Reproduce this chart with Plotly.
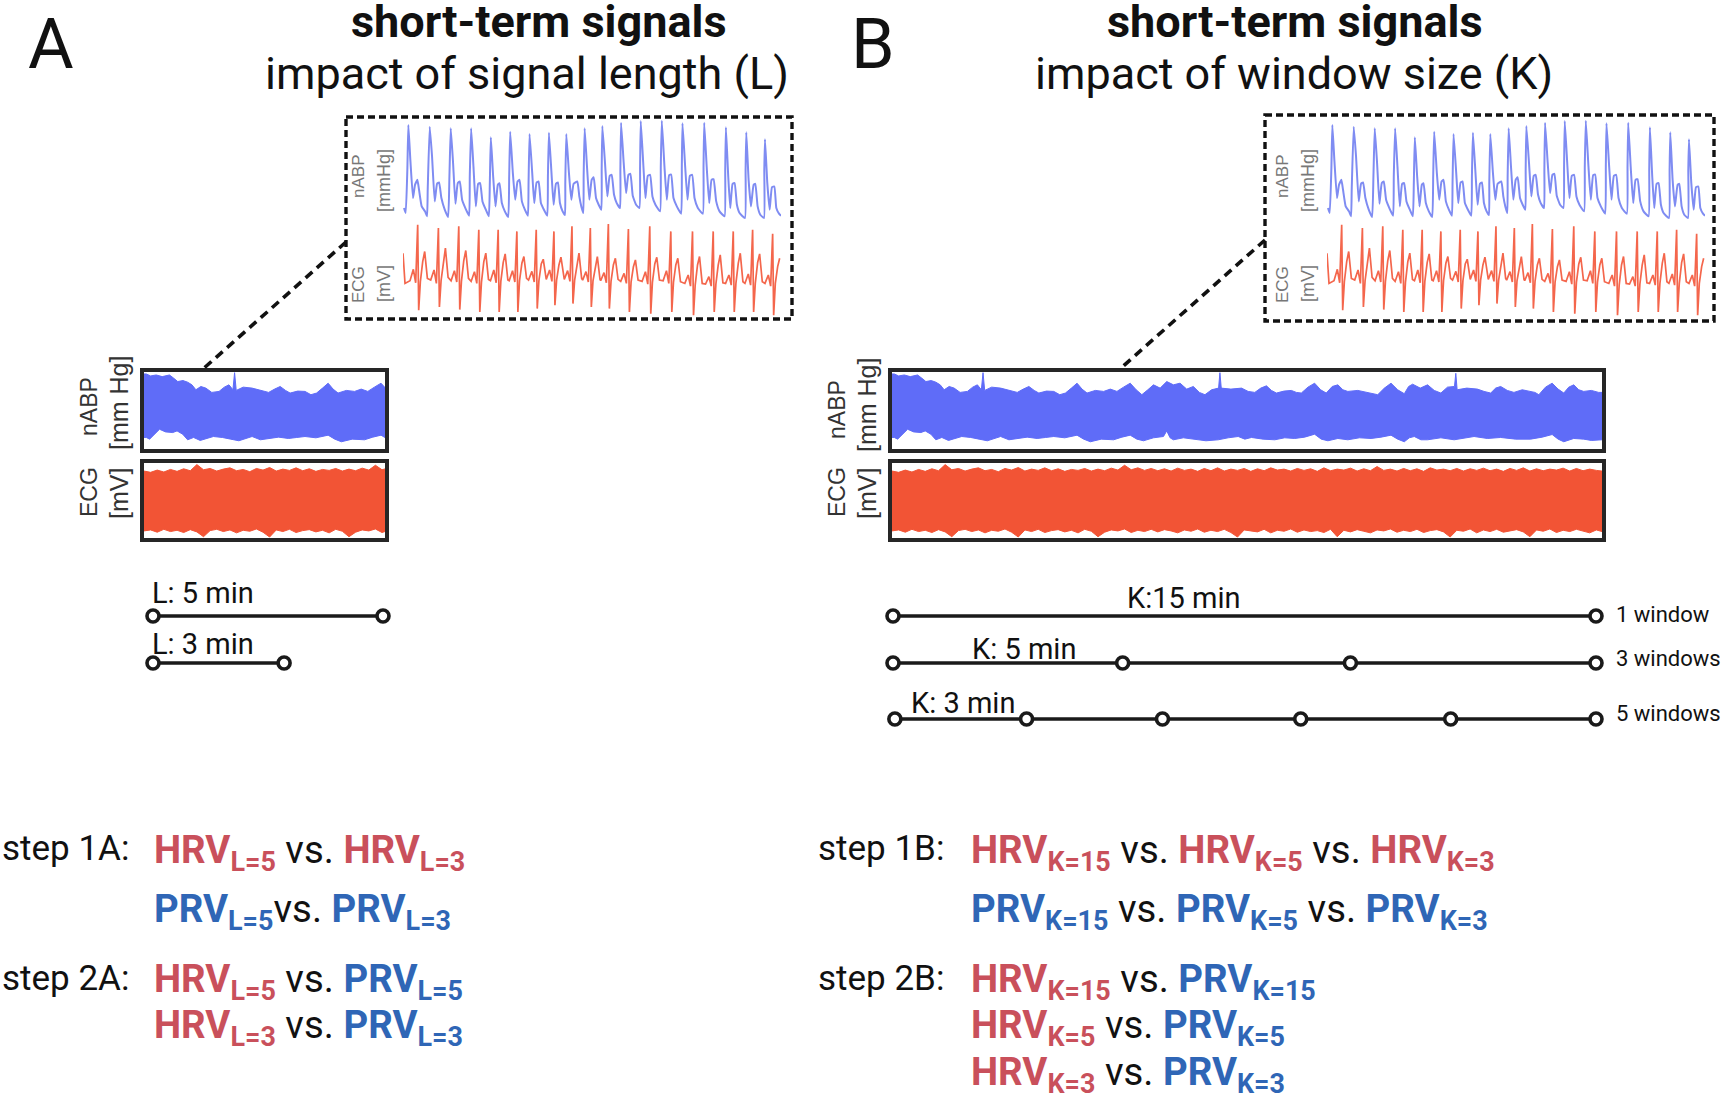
import plotly.graph_objects as go

W = 1725
H = 1096

BLUE = "#5f6cf8"
RED = "#f25435"
TRACE_BLUE = "#7f8cf2"
TRACE_RED = "#f4664c"
HRV_RED = "#c9505b"
PRV_BLUE = "#2f66b6"
FONT = "Roboto"
SIGNAL_FONT = "Liberation Sans"

# beat by beat reading of the zoomed nABP snippet
abp_sample = [193, 198, 203, 206, 212, 220, 226, 233, 238, 246, 256, 262,
    264, 270, 277, 285, 292, 298, 305, 315, 325,
    329, 333, 340, 347, 354, 360, 367, 378, 388,
    390, 394, 401, 408, 415, 421, 428, 438, 447,
    450, 453, 460, 467, 474, 479, 486, 495, 505,
    508, 511, 519, 526, 533, 539, 546, 555, 564,
    566, 569, 577, 583, 590, 596, 603, 612, 622,
    624, 627, 635, 641, 648, 654, 660, 668, 675,
    676, 679, 687, 694, 701, 712, 718, 724, 730,
    731, 734, 741, 748, 755, 761, 768, 776, 784,
    785, 787, 795, 802, 809, 815, 822, 830, 840,
    841, 843, 851, 858, 865, 871, 878, 888, 898,
    900, 902, 910, 916, 923, 930, 937, 946, 960,
    962, 965, 973, 980, 987, 993, 1000, 1010, 1023,
    1025, 1027, 1035, 1042, 1049, 1056, 1063, 1073, 1088,
    1090, 1092, 1100, 1107, 1114, 1120, 1128, 1138, 1153,
    1155, 1157, 1164, 1170, 1177, 1183, 1190, 1198, 1214,
    1216, 1218, 1225, 1232, 1240, 1245, 1252, 1260, 1271,
    1272, 1274, 1281, 1288, 1295, 1302, 1308, 1316, 1322]
abp_level = [45, 30, 160, 295, 190, 75, 115, 130, 100, 50, 35, 20,
    100, 290, 200, 65, 118, 122, 75, 40, 18,
    140, 285, 180, 58, 120, 125, 70, 42, 22,
    140, 285, 170, 50, 118, 120, 65, 40, 20,
    120, 258, 140, 50, 115, 120, 60, 35, 18,
    140, 275, 150, 70, 125, 130, 65, 40, 22,
    120, 268, 150, 60, 122, 125, 60, 40, 22,
    140, 272, 145, 55, 118, 122, 60, 35, 24,
    120, 268, 150, 70, 118, 125, 80, 50, 30,
    140, 285, 170, 70, 130, 138, 75, 55, 40,
    160, 292, 180, 80, 142, 145, 85, 60, 45,
    160, 302, 180, 90, 145, 148, 82, 55, 45,
    170, 307, 170, 75, 142, 145, 80, 55, 35,
    170, 308, 170, 70, 144, 146, 75, 50, 28,
    170, 300, 170, 70, 142, 145, 75, 45, 28,
    170, 302, 160, 60, 130, 132, 65, 35, 20,
    160, 288, 140, 45, 118, 120, 55, 30, 15,
    160, 273, 130, 50, 115, 118, 50, 25, 15,
    160, 252, 120, 40, 108, 110, 45, 28, 22]

# same for the ECG snippet
ecg_sample = [190, 196,
    211, 221, 228, 234, 237, 242, 249, 255, 263,
    273, 283, 290, 296, 299, 304, 311, 317, 325,
    334, 344, 351, 357, 360, 365, 372, 378, 386,
    394, 404, 411, 417, 420, 425, 432, 438, 446,
    452, 462, 469, 475, 478, 483, 490, 496, 504,
    508, 518, 525, 531, 534, 539, 546, 552, 560,
    566, 576, 583, 589, 592, 597, 604, 610, 618,
    619, 629, 636, 642, 645, 650, 657, 663, 671,
    673, 683, 690, 696, 699, 704, 711, 717, 725,
    728, 738, 745, 751, 754, 759, 766, 772, 780,
    782, 792, 799, 805, 808, 813, 820, 826, 834,
    842, 852, 859, 865, 868, 873, 880, 886, 894,
    906, 916, 923, 929, 932, 937, 944, 950, 958,
    969, 979, 986, 992, 995, 1000, 1007, 1013, 1021,
    1034, 1044, 1051, 1057, 1060, 1065, 1072, 1078, 1086,
    1096, 1106, 1113, 1119, 1122, 1127, 1134, 1140, 1148,
    1156, 1166, 1173, 1179, 1182, 1187, 1194, 1200, 1208,
    1214, 1224, 1231, 1237, 1240, 1245, 1252, 1258, 1266,
    1274, 1284, 1291, 1297, 1300, 1305, 1312, 1318]
ecg_level = [190, 100,
    108, 142, 102, 275, 20, 105, 165, 195, 115,
    110, 140, 100, 265, 30, 108, 170, 205, 118,
    108, 138, 104, 270, 22, 106, 168, 198, 115,
    106, 135, 100, 260, 15, 104, 165, 190, 112,
    108, 140, 102, 260, 15, 106, 162, 188, 110,
    108, 138, 104, 255, 15, 108, 160, 180, 115,
    110, 136, 104, 260, 25, 108, 158, 172, 116,
    112, 140, 106, 255, 35, 110, 155, 178, 118,
    112, 138, 106, 270, 40, 110, 160, 190, 115,
    110, 135, 104, 265, 30, 108, 155, 180, 112,
    108, 132, 102, 277, 25, 106, 155, 175, 112,
    106, 130, 100, 262, 15, 104, 150, 170, 110,
    106, 135, 98, 270, 10, 104, 158, 178, 110,
    108, 138, 100, 255, 15, 104, 155, 175, 105,
    100, 125, 92, 255, 5, 95, 155, 180, 100,
    98, 120, 92, 255, 15, 98, 155, 185, 102,
    100, 125, 95, 255, 15, 100, 160, 190, 105,
    100, 128, 95, 260, 15, 100, 162, 188, 105,
    100, 125, 92, 248, 5, 100, 150, 175]

# envelopes of the long recordings, (sample, level)
abp_top_edge = [(0, 228), (7, 228), (20, 222), (37, 225), (55, 220), (77, 225), (90, 215), (102, 205),
    (118, 208), (132, 203), (145, 195), (157, 180), (172, 190), (187, 185), (205, 172), (227, 175),
    (243, 188), (257, 195), (269, 180), (274, 232), (279, 178), (300, 188), (327, 185), (350, 178),
    (377, 172), (395, 182), (412, 190), (428, 178), (442, 170), (465, 176), (487, 175), (505, 165),
    (522, 170), (540, 185), (557, 200), (572, 182), (587, 170), (612, 178), (637, 175), (657, 182),
    (677, 175), (697, 188), (717, 200), (735, 180), (752, 165), (770, 180), (787, 195), (807, 185),
    (827, 205), (847, 195), (867, 200), (887, 182), (907, 190), (925, 172), (942, 165), (962, 180),
    (983, 185), (987, 232), (991, 185), (1020, 182), (1052, 185), (1072, 175), (1092, 172), (1110, 185),
    (1127, 192), (1142, 178), (1157, 170), (1180, 176), (1202, 178), (1217, 172), (1232, 170), (1252, 188),
    (1272, 200), (1290, 180), (1307, 170), (1325, 190), (1342, 195), (1357, 180), (1372, 175), (1402, 178),
    (1432, 172), (1447, 170), (1462, 165), (1482, 185), (1502, 200), (1522, 180), (1542, 168), (1555, 190),
    (1567, 197), (1590, 185), (1612, 195), (1632, 178), (1652, 170), (1672, 188), (1693, 190), (1697, 230),
    (1701, 180), (1730, 185), (1762, 182), (1782, 175), (1802, 170), (1817, 185), (1832, 190), (1852, 178),
    (1872, 172), (1897, 180), (1922, 175), (1935, 172), (1947, 165), (1967, 188), (1987, 200), (2005, 182),
    (2022, 170), (2037, 188), (2052, 195), (2067, 180), (2082, 175), (2105, 178), (2127, 172), (2137, 172)]
abp_low_edge = [(0, 35), (7, 35), (17, 30), (27, 38), (37, 50), (47, 60), (65, 52), (87, 50), (100, 55),
    (117, 45), (132, 28), (150, 35), (170, 26), (187, 32), (210, 38), (237, 35), (262, 30), (287, 25),
    (307, 32), (327, 38), (352, 28), (377, 32), (407, 36), (437, 32), (462, 35), (487, 38), (520, 34),
    (557, 42), (577, 30), (597, 22), (630, 30), (667, 28), (692, 36), (717, 42), (737, 30), (757, 25),
    (787, 34), (817, 38), (827, 55), (837, 34), (847, 28), (877, 34), (907, 30), (945, 25), (982, 28),
    (1012, 34), (1042, 38), (1062, 30), (1082, 35), (1117, 30), (1152, 28), (1182, 34), (1212, 32),
    (1242, 36), (1272, 45), (1292, 30), (1312, 25), (1342, 32), (1372, 28), (1407, 34), (1442, 32),
    (1472, 36), (1502, 42), (1522, 30), (1542, 22), (1557, 34), (1572, 38), (1592, 28), (1612, 28),
    (1652, 34), (1692, 28), (1722, 34), (1752, 38), (1792, 32), (1832, 35), (1877, 30), (1922, 30),
    (1957, 36), (1987, 44), (2005, 30), (2022, 22), (2052, 32), (2082, 30), (2105, 26), (2127, 28), (2137, 28)]
ecg_env_sample = [0, 20, 40, 60, 80, 100, 120, 140, 160, 180, 200, 220,
    240, 260, 280, 300, 320, 340, 360, 380, 400, 420, 440, 460,
    480, 500, 520, 540, 560, 580, 600, 620, 640, 660, 680, 700,
    720, 740, 760, 780, 800, 820, 840, 860, 880, 900, 920, 940,
    960, 980, 1000, 1020, 1040, 1060, 1080, 1100, 1120, 1140, 1160, 1180,
    1200, 1220, 1240, 1260, 1280, 1300, 1320, 1340, 1360, 1380, 1400, 1420,
    1440, 1460, 1480, 1500, 1520, 1540, 1560, 1580, 1600, 1620, 1640, 1660,
    1680, 1700, 1720, 1740, 1760, 1780, 1800, 1820, 1840, 1860, 1880, 1900,
    1920, 1940, 1960, 1980, 2000, 2020, 2040, 2060, 2080, 2100, 2120, 2137]
ecg_top_level = [208, 204, 211, 205, 213, 207, 215, 209, 228, 212, 216, 208,
    214, 218, 209, 213, 206, 216, 211, 219, 208, 214, 210, 218,
    209, 215, 207, 213, 210, 216, 208, 214, 209, 217, 211, 226,
    212, 218, 210, 216, 209, 215, 208, 217, 210, 214, 207, 216,
    209, 218, 208, 214, 210, 216, 207, 215, 209, 218, 211, 214,
    208, 216, 210, 215, 207, 218, 209, 214, 211, 217, 208, 215,
    209, 222, 210, 214, 208, 216, 209, 215, 207, 218, 211, 214,
    209, 216, 208, 215, 210, 217, 209, 214, 207, 216, 210, 218,
    208, 215, 209, 214, 211, 217, 208, 216, 209, 214, 210, 208]
ecg_low_level = [22, 25, 18, 27, 20, 24, 17, 26, 19, 4, 23, 27,
    20, 25, 16, 24, 21, 28, 18, 3, 25, 20, 27, 17,
    23, 26, 19, 24, 16, 27, 21, 4, 18, 25, 22, 28,
    17, 24, 20, 27, 19, 26, 22, 16, 25, 21, 28, 18,
    24, 20, 27, 17, 3, 25, 22, 19, 27, 16, 24, 21,
    28, 18, 25, 20, 23, 17, 27, 4, 24, 19, 26, 21,
    16, 25, 22, 28, 18, 24, 20, 27, 17, 23, 26, 19,
    3, 24, 21, 28, 16, 25, 20, 27, 18, 23, 26, 19,
    4, 25, 21, 28, 17, 24, 20, 27, 22, 16, 25, 20]

# analysis windows on the time line, minutes
windows_a = [[0, 5.0], [0, 2.85]]
windows_b = [[0, 15], [0, 4.9, 9.76, 15], [0.04, 2.85, 5.75, 8.7, 11.9, 15]]
window_labels_b = ["1 window", "3 windows", "5 windows"]


def hrv(sub):
    return f'<span style="color:{HRV_RED}"><b>HRV<sub>{sub}</sub></b></span>'


def prv(sub):
    return f'<span style="color:{PRV_BLUE}"><b>PRV<sub>{sub}</sub></b></span>'


rows_a = [hrv("L=5") + " vs. " + hrv("L=3"),
    prv("L=5") + "vs. " + prv("L=3"),
    hrv("L=5") + " vs. " + prv("L=5"),
    hrv("L=3") + " vs. " + prv("L=3")]
rows_b = [hrv("K=15") + " vs. " + hrv("K=5") + " vs. " + hrv("K=3"),
    prv("K=15") + " vs. " + prv("K=5") + " vs. " + prv("K=3"),
    hrv("K=15") + " vs. " + prv("K=15"),
    hrv("K=5") + " vs. " + prv("K=5"),
    hrv("K=3") + " vs. " + prv("K=3")]

fig = go.Figure()
layout = dict(
    width=W,
    height=H,
    margin=dict(l=0, r=0, t=0, b=0),
    paper_bgcolor="white",
    plot_bgcolor="rgba(0,0,0,0)",
    showlegend=False,
    xaxis=dict(range=[0, W], domain=[0, 1], visible=False, fixedrange=True),
    yaxis=dict(range=[H, 0], domain=[0, 1], visible=False, fixedrange=True),
)
axis_count = 1


def add_axes(x0, x1, y0, y1, xrange, yrange, framed=False):
    global axis_count
    axis_count += 1
    n = axis_count
    style = dict(showticklabels=False, ticks="", showgrid=False, zeroline=False, fixedrange=True)
    if framed:
        style.update(showline=True, mirror=True, linecolor="#262626", linewidth=3.5)
    else:
        style.update(visible=False)
    layout[f"xaxis{n}"] = dict(domain=[x0 / W, x1 / W], range=xrange, anchor=f"y{n}", **style)
    layout[f"yaxis{n}"] = dict(domain=[1 - y1 / H, 1 - y0 / H], range=yrange, anchor=f"x{n}", **style)
    return f"x{n}", f"y{n}"


def add_snippet(dx, dy):
    xa, ya = add_axes(403 + dx, 781 + dx, 120 + dy, 223 + dy, [190, 1322], [0, 310])
    fig.add_trace(go.Scatter(x=abp_sample, y=abp_level, mode="lines", xaxis=xa, yaxis=ya,
        line=dict(color=TRACE_BLUE, width=2, shape="spline", smoothing=0.4)))
    xa, ya = add_axes(403 + dx, 781 + dx, 224 + dy, 317 + dy, [190, 1322], [0, 277])
    fig.add_trace(go.Scatter(x=ecg_sample, y=ecg_level, mode="lines", xaxis=xa, yaxis=ya,
        line=dict(color=TRACE_RED, width=1.7)))


def add_record(x0, x1, span):
    xa, ya = add_axes(x0, x1, 372, 449, [0, span], [0, 234], framed=True)
    fig.add_trace(go.Scatter(x=[p[0] for p in abp_top_edge + abp_low_edge[::-1]],
        y=[p[1] for p in abp_top_edge + abp_low_edge[::-1]],
        mode="lines", fill="toself", fillcolor=BLUE, line=dict(color=BLUE, width=1), xaxis=xa, yaxis=ya))
    xa, ya = add_axes(x0, x1, 463, 538, [0, span], [0, 233], framed=True)
    fig.add_trace(go.Scatter(x=ecg_env_sample + ecg_env_sample[::-1], y=ecg_top_level + ecg_low_level[::-1],
        mode="lines", fill="toself", fillcolor=RED, line=dict(color=RED, width=1), xaxis=xa, yaxis=ya))


def add_windows(windows, xa, rows_y):
    for stops, row_y in zip(windows, rows_y):
        fig.add_trace(go.Scatter(x=stops, y=[row_y] * len(stops), mode="lines+markers", xaxis=xa, yaxis="y",
            cliponaxis=False,
            line=dict(color="#1a1a1a", width=3.4),
            marker=dict(symbol="circle", size=12, color="white", line=dict(color="#1a1a1a", width=3.6))))


add_snippet(0, 0)
add_snippet(924, 0)
add_record(144, 385, 729)
add_record(892, 1602, 2137)

# time lines share the pixel y axis, one x axis each in minutes
xa_a, _ = add_axes(153, 383, 0, H, [0, 5], [H, 0])
xa_b, _ = add_axes(893, 1596, 0, H, [0, 15], [H, 0])
add_windows(windows_a, xa_a, [616, 663])
add_windows(windows_b, xa_b, [616, 663, 719])

annotations = []


def text(x, y, s, size, anchor="left", angle=0, color="#111111", family=FONT, weight=None):
    font = dict(family=family, size=size, color=color)
    if weight:
        font["weight"] = weight
    annotations.append(dict(x=x, y=y, xref="x", yref="y", text=s, showarrow=False, xanchor=anchor,
        yanchor="middle", textangle=angle, font=font, align="left"))


text(26, 44, "A", 70)
text(849, 44, "B", 70)
text(539, 21, "<b>short-term signals</b>", 45, "center")
text(527, 73, "impact of signal length (L)", 45, "center")
text(1295, 21, "<b>short-term signals</b>", 45, "center")
text(1294, 73, "impact of window size (K)", 45, "center")

for dx in (0, 924):
    text(358 + dx, 177, "nABP", 17, "center", -90, "#777777", SIGNAL_FONT)
    text(384 + dx, 181, "[mmHg]", 18, "center", -90, "#777777", SIGNAL_FONT)
    text(358 + dx, 285, "ECG", 17, "center", -90, "#777777", SIGNAL_FONT)
    text(384 + dx, 284, "[mV]", 18, "center", -90, "#777777", SIGNAL_FONT)

for x_name, x_unit, y_name, y_unit in ((89, 119, 407, 403), (837, 867, 410, 405)):
    text(x_name, y_name, "nABP", 23, "center", -90, "#333333", SIGNAL_FONT)
    text(x_unit, y_unit, "[mm Hg]", 25, "center", -90, "#333333", SIGNAL_FONT)
    text(x_name, 492, "ECG", 23, "center", -90, "#333333", SIGNAL_FONT)
    text(x_unit, 494, "[mV]", 25, "center", -90, "#333333", SIGNAL_FONT)

text(150, 593, "L: 5 min", 29)
text(150, 644, "L: 3 min", 29)
text(1184, 598, "K:15 min", 29, "center")
text(1024, 649, "K: 5 min", 29, "center")
text(963, 703, "K: 3 min", 29, "center")
for label, y in zip(window_labels_b, [614, 658, 713]):
    text(1614, y, label, 22)

text(0, 848, "step 1A:", 35)
text(0, 978, "step 2A:", 35)
text(816, 848, "step 1B:", 35)
text(816, 978, "step 2B:", 35)
for row, y in zip(rows_a, [852, 911, 981, 1027]):
    text(152, y, row, 38.4)
for row, y in zip(rows_b, [852, 911, 981, 1027, 1074]):
    text(969, y, row, 38.4)

dash = dict(color="#111111", width=3.4, dash="7px,4px")
slant = dict(color="#111111", width=3.6, dash="9px,6px")
layout["annotations"] = annotations
layout["shapes"] = [
    dict(type="rect", xref="x", yref="y", x0=346, x1=792, y0=117, y1=319, line=dash),
    dict(type="rect", xref="x", yref="y", x0=1265, x1=1714, y0=115, y1=321, line=dash),
    dict(type="line", xref="x", yref="y", x0=346, x1=203, y0=242, y1=369, line=slant),
    dict(type="line", xref="x", yref="y", x0=1265, x1=1120, y0=240, y1=369, line=slant),
]
fig.update_layout(**layout)

fig.write_html("out.html", config={"displayModeBar": False},
    post_script="document.body.style.margin='0';document.body.style.overflow='hidden';")
